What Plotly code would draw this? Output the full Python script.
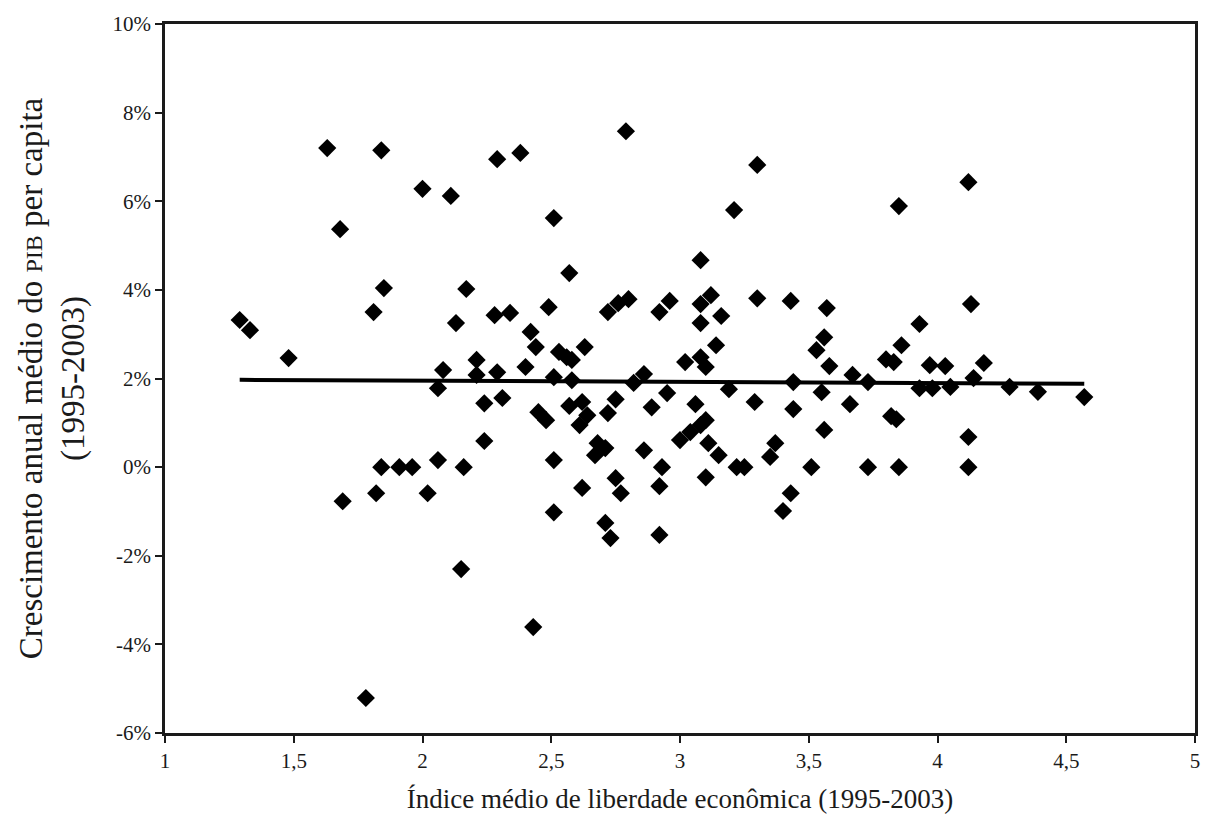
import plotly.graph_objects as go

# Índice médio de liberdade econômica (1995-2003)
freedom_index = [
    1.29, 1.33, 1.48, 1.63, 1.68, 1.69, 1.78, 1.81, 1.82, 1.84, 1.84, 1.85, 1.91, 1.96,
    2.00, 2.02, 2.06, 2.06, 2.08, 2.11, 2.13, 2.15, 2.16, 2.17, 2.21, 2.21, 2.24, 2.24,
    2.28, 2.29, 2.29, 2.31, 2.34, 2.38, 2.40, 2.42, 2.43, 2.44, 2.45, 2.48, 2.49, 2.51,
    2.51, 2.51, 2.51, 2.53, 2.56, 2.57, 2.57, 2.58, 2.58, 2.62, 2.62, 2.63, 2.64, 2.61,
    2.67, 2.68, 2.71, 2.71, 2.72, 2.72, 2.73, 2.75, 2.75, 2.76, 2.77, 2.79, 2.80, 2.82,
    2.86, 2.86, 2.89, 2.92, 2.92, 2.92, 2.93, 2.95, 2.96, 3.00, 3.02, 3.04, 3.06, 3.08,
    3.08, 3.08, 3.08, 3.08, 3.10, 3.10, 3.10, 3.11, 3.12, 3.14, 3.15, 3.16, 3.19, 3.21,
    3.22, 3.25, 3.29, 3.30, 3.30, 3.35, 3.37, 3.40, 3.43, 3.43, 3.44, 3.44, 3.51, 3.53,
    3.55, 3.56, 3.56, 3.57, 3.58, 3.66, 3.67, 3.73, 3.73, 3.80, 3.83, 3.82, 3.84, 3.85,
    3.85, 3.86, 3.93, 3.93, 3.97, 3.98, 4.03, 4.05, 4.12, 4.12, 4.12, 4.13, 4.14, 4.18,
    4.28, 4.39, 4.57,
]

# Crescimento anual médio do PIB per capita (%), mesmo país em cada posição
gdp_growth = [
    3.32, 3.09, 2.46, 7.20, 5.37, -0.77, -5.21, 3.50, -0.59, 7.15, 0.00, 4.04, 0.00, 0.00,
    6.28, -0.59, 0.16, 1.78, 2.19, 6.12, 3.25, -2.30, 0.00, 4.02, 2.42, 2.08, 1.44, 0.59,
    3.43, 6.95, 2.14, 1.56, 3.48, 7.09, 2.26, 3.05, -3.61, 2.71, 1.24, 1.06, 3.61, 5.62,
    2.03, 0.16, -1.02, 2.60, 2.48, 4.38, 1.38, 2.42, 1.96, 1.47, -0.47, 2.71, 1.17, 0.95,
    0.27, 0.54, 0.43, -1.26, 3.50, 1.22, -1.60, 1.53, -0.25, 3.70, -0.59, 7.58, 3.79, 1.90,
    2.10, 0.38, 1.35, 3.50, -0.43, -1.53, 0.00, 1.67, 3.75, 0.61, 2.37, 0.79, 1.42, 4.67,
    3.68, 3.25, 2.48, 0.95, 2.26, 1.06, -0.23, 0.54, 3.88, 2.75, 0.27, 3.41, 1.76, 5.80,
    0.00, 0.00, 1.47, 6.82, 3.81, 0.23, 0.54, -0.99, 3.75, -0.59, 1.92, 1.31, 0.00, 2.64,
    1.69, 2.93, 0.84, 3.59, 2.28, 1.42, 2.08, 1.92, 0.00, 2.43, 2.37, 1.15, 1.08, 5.89,
    0.00, 2.75, 3.23, 1.78, 2.30, 1.78, 2.28, 1.81, 6.43, 0.68, 0.00, 3.68, 2.01, 2.35,
    1.81, 1.70, 1.58,
]

# Linha de tendência (valores nas extremidades do índice)
trend_x = [min(freedom_index), max(freedom_index)]
trend_y = [1.97, 1.88]

x_tick_vals = [1, 1.5, 2, 2.5, 3, 3.5, 4, 4.5, 5]
x_tick_text = ["1", "1,5", "2", "2,5", "3", "3,5", "4", "4,5", "5"]
y_tick_vals = [-6, -4, -2, 0, 2, 4, 6, 8, 10]
y_tick_text = ["-6%", "-4%", "-2%", "0%", "2%", "4%", "6%", "8%", "10%"]

serif = "Liberation Serif, DejaVu Serif, serif"
ink = "#1a1a1a"

fig = go.Figure()
fig.add_trace(go.Scatter(
    x=freedom_index, y=gdp_growth, mode="markers",
    marker=dict(symbol="diamond", size=14, color="black", line=dict(width=0)),
    showlegend=False, hoverinfo="x+y",
))
fig.add_trace(go.Scatter(
    x=trend_x, y=trend_y, mode="lines",
    line=dict(color="black", width=4), showlegend=False, hoverinfo="skip",
))

axis_common = dict(
    showgrid=False, zeroline=False, showline=True, linecolor=ink, linewidth=2.5,
    mirror=True, ticks="outside", ticklen=7, tickwidth=2, tickcolor=ink,
    tickfont=dict(family=serif, size=21, color=ink),
)

fig.update_layout(
    width=1209, height=820,
    margin=dict(l=165, r=9, t=24, b=87),
    paper_bgcolor="white", plot_bgcolor="white",
    xaxis=dict(
        range=[1, 5], tickvals=x_tick_vals, ticktext=x_tick_text,
        title=dict(text="Índice médio de liberdade econômica (1995-2003)",
                   font=dict(family=serif, size=27, color=ink), standoff=18),
        **axis_common,
    ),
    yaxis=dict(
        range=[-6, 10], tickvals=y_tick_vals, ticktext=y_tick_text,
        title=dict(text="Crescimento anual médio do <span style='font-size:24px'>PIB</span> per capita<br>(1995-2003)",
                   font=dict(family=serif, size=33, color=ink), standoff=18),
        **axis_common,
    ),
)

fig.write_html("out.html")
